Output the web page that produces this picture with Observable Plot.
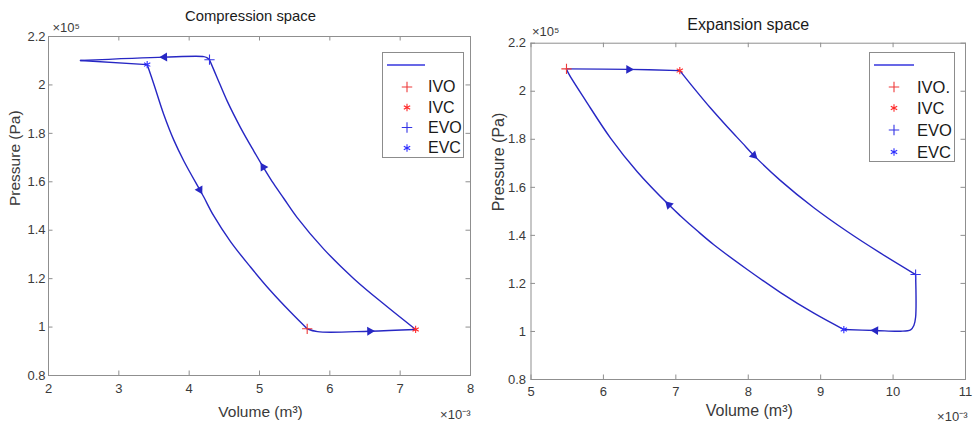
<!DOCTYPE html>
<html>
<head>
<meta charset="utf-8">
<script src="https://cdn.jsdelivr.net/npm/d3@7"></script>
<script src="https://cdn.jsdelivr.net/npm/@observablehq/plot@0.6"></script>
<style>
  body { margin: 0; background: #fff; }
  #wrap { position: relative; width: 978px; height: 425px; overflow: hidden; background: #fff;
          font-family: "Liberation Sans", Arial, sans-serif; }
  .panel { position: absolute; top: 0; }
  .legend { position: absolute; border: 1px solid #8c8c8c; background: #fff; box-sizing: border-box; }
  .legend svg { position: absolute; left: 0; top: 0; overflow: visible; }
  .legend .lab { position: absolute; color: #1a1a1a; white-space: nowrap; line-height: 1; }
</style>
</head>
<body>
<div id="wrap"></div>
<script>
// ---------------- DATA (volume in 1e-3 m^3, pressure in 1e5 Pa) ----------------
// Compression space cycle, in drawing order (EVC -> IVO -> IVC -> EVO -> tip -> EVC)
const compVolume = [3.403, 3.497, 3.639, 3.782, 3.924, 4.151, 4.208, 4.346, 4.588, 4.872, 5.157, 5.441, 5.678,
                    5.825, 6.568, 7.220,
                    6.768, 6.341, 5.914, 5.536, 5.346, 5.203, 5.053, 4.919, 4.730, 4.541, 4.399, 4.289,
                    4.250, 4.208, 3.649, 2.455, 3.403];
const compPressure = [2.084, 2.004, 1.878, 1.772, 1.686, 1.567, 1.537, 1.461, 1.353, 1.248, 1.150, 1.062, 0.993,
                      0.981, 0.983, 0.990,
                      1.095, 1.200, 1.322, 1.452, 1.531, 1.591, 1.661, 1.727, 1.824, 1.933, 2.029, 2.104,
                      2.113, 2.117, 2.115, 2.101, 2.084];
const compCorners = [0, 12, 15, 27, 31, 32];   // indices where the drawn line turns sharply
const compArrowVolume = [3.649, 4.151, 6.568, 5.053];
const compArrowPressure = [2.115, 1.567, 0.983, 1.661];
const compMarkerName = ["IVO", "IVC", "EVO", "EVC"];
const compMarkerVolume = [5.678, 7.220, 4.289, 3.403];
const compMarkerPressure = [0.993, 0.990, 2.104, 2.084];

// Expansion space cycle, in drawing order (IVO -> IVC -> EVO -> EVC -> IVO)
const expVolume = [5.490, 6.351, 7.055, 7.249, 7.479, 7.710, 7.917, 8.077, 8.446, 8.906, 9.367, 9.827, 10.311,
                   10.311, 10.287, 10.242, 10.103, 9.758, 9.320,
                   8.906, 8.446, 7.986, 7.525, 7.296, 7.065, 6.903, 6.467, 6.098, 5.753, 5.522, 5.490];
const expPressure = [2.093, 2.091, 2.086, 2.013, 1.930, 1.852, 1.785, 1.733, 1.628, 1.515, 1.416, 1.326, 1.237,
                     1.059, 1.025, 1.007, 1.001, 1.004, 1.008,
                     1.076, 1.162, 1.258, 1.361, 1.419, 1.481, 1.527, 1.665, 1.805, 1.962, 2.072, 2.093];
const expCorners = [0, 2, 12, 18, 30];
const expArrowVolume = [6.351, 8.077, 9.758, 6.903];
const expArrowPressure = [2.091, 1.733, 1.004, 1.527];
const expMarkerName = ["IVO", "IVC", "EVO", "EVC"];
const expMarkerVolume = [5.490, 7.055, 10.311, 9.320];
const expMarkerPressure = [2.093, 2.086, 1.237, 1.008];

// Axes
const compXTicks = [2, 3, 4, 5, 6, 7, 8];
const expXTicks = [5, 6, 7, 8, 9, 10, 11];
const yTicks = [0.8, 1, 1.2, 1.4, 1.6, 1.8, 2, 2.2];
const compLegendLabels = ["IVO", "IVC", "EVO", "EVC"];
const expLegendLabels = ["IVO.", "IVC", "EVO", "EVC"];

// ---------------- STYLE ----------------
const lineColor = "#2727c4";
const frameColor = "#8f8f8f";
const textColor = "#3a3a3a";
const markerStyle = {
  IVO: {symbol: "plus", color: "#ee3a3a"},
  IVC: {symbol: "asterisk", color: "#ff2a2a"},
  EVO: {symbol: "plus", color: "#3434e6"},
  EVC: {symbol: "asterisk", color: "#2f2fff"}
};

const wrap = document.getElementById("wrap");

function makePanel(cfg) {
  const W = cfg.width - cfg.ml - cfg.mr;
  const H = 425 - cfg.mt - cfg.mb;
  const path = cfg.V.map((v, i) => ({x: v, y: cfg.P[i]}));
  // split into smooth pieces between sharp corners
  const pieces = [];
  for (let k = 0; k < cfg.corners.length - 1; k++) {
    for (let j = cfg.corners[k]; j <= cfg.corners[k + 1]; j++) pieces.push({...path[j], seg: k});
  }
  const sx = v => (v - cfg.xDomain[0]) / (cfg.xDomain[1] - cfg.xDomain[0]) * W;
  const sy = p => (cfg.yDomain[1] - p) / (cfg.yDomain[1] - cfg.yDomain[0]) * H;
  const arrows = cfg.aV.map((v, i) => {
    const p = cfg.aP[i];
    let best = 0, bd = Infinity;
    path.forEach((q, j) => {
      const d = (sx(q.x) - sx(v)) ** 2 + (sy(q.y) - sy(p)) ** 2;
      if (d < bd) { bd = d; best = j; }
    });
    const a = path[Math.max(best - 1, 0)], b = path[Math.min(best + 1, path.length - 1)];
    const dx = sx(b.x) - sx(a.x), dy = sy(b.y) - sy(a.y);
    return {x: v, y: p, angle: Math.atan2(dx, -dy) * 180 / Math.PI};
  });
  const markers = cfg.mName.map((n, i) => ({name: n, x: cfg.mV[i], y: cfg.mP[i]}));
  const tick = 4.5;

  const plot = Plot.plot({
    width: cfg.width, height: 425,
    marginLeft: cfg.ml, marginRight: cfg.mr, marginTop: cfg.mt, marginBottom: cfg.mb,
    x: {domain: cfg.xDomain},
    y: {domain: cfg.yDomain},
    style: {fontFamily: '"Liberation Sans", Arial, sans-serif', background: "transparent", overflow: "visible"},
    marks: [
      Plot.frame({stroke: frameColor, strokeWidth: 1}),
      Plot.ruleX(cfg.xTicks, {x: d => d, stroke: frameColor, insetTop: H - tick}),
      Plot.ruleX(cfg.xTicks, {x: d => d, stroke: frameColor, insetBottom: H - tick}),
      Plot.ruleY(yTicks, {y: d => d, stroke: frameColor, insetRight: W - tick}),
      Plot.ruleY(yTicks, {y: d => d, stroke: frameColor, insetLeft: W - tick}),
      Plot.axisX(cfg.xTicks, {tickSize: 0, tickPadding: cfg.xPad, fontSize: 13, color: textColor, label: null, tickFormat: d => String(d)}),
      Plot.axisY(yTicks, {tickSize: 0, tickPadding: cfg.yPad, fontSize: 13, color: textColor, label: null, tickFormat: d => String(+d.toFixed(1))}),
      Plot.line(pieces, {x: "x", y: "y", z: "seg", stroke: lineColor, strokeWidth: 1.4, curve: "catmull-rom"}),
      Plot.dot(arrows, {x: "x", y: "y", rotate: "angle", symbol: "triangle", r: 3.3, fill: lineColor, stroke: "none"}),
      Plot.dot(markers, {x: "x", y: "y", symbol: d => markerStyle[d.name].symbol, stroke: d => markerStyle[d.name].color, r: 3.4, strokeWidth: 1.1, fill: "none"}),
      Plot.text([cfg.title], {text: d => d, frameAnchor: "top", lineAnchor: "middle", dx: cfg.titleDx, dy: cfg.titleDy, fontSize: cfg.titleSize, fill: "#1a1a1a"}),
      Plot.text(["Pressure (Pa)"], {text: d => d, frameAnchor: "left", lineAnchor: "middle", rotate: -90, dx: cfg.ylabDx, fontSize: cfg.labSize, fill: textColor}),
      Plot.text(["Volume (m³)"], {text: d => d, frameAnchor: "bottom", lineAnchor: "middle", dx: 1, dy: cfg.xlabDy, fontSize: cfg.labSize, fill: textColor}),
      Plot.text(["×10⁵"], {text: d => d, frameAnchor: "top-left", lineAnchor: "middle", textAnchor: "start", dx: cfg.yMulDx, dy: cfg.yMulDy, fontSize: 13, fill: textColor}),
      Plot.text(["×10⁻³"], {text: d => d, frameAnchor: "bottom-right", lineAnchor: "middle", textAnchor: "end", dx: cfg.xMulDx, dy: cfg.xMulDy, fontSize: 13, fill: textColor})
    ]
  });
  plot.classList.add("panel");
  plot.style.left = cfg.left + "px";
  wrap.appendChild(plot);

  // legend
  const lg = document.createElement("div");
  lg.className = "legend";
  Object.assign(lg.style, {left: cfg.lg.x + "px", top: cfg.lg.y + "px", width: cfg.lg.w + "px", height: cfg.lg.h + "px"});
  const svg = d3.select(lg).append("svg").attr("width", cfg.lg.w).attr("height", cfg.lg.h);
  svg.append("line").attr("x1", 4).attr("x2", cfg.lg.lineEnd).attr("y1", 12).attr("y2", 12)
    .attr("stroke", "#3636de").attr("stroke-width", 1.6);
  cfg.labels.forEach((lab, i) => {
    const st = markerStyle[cfg.mName[i]];
    const sym = st.symbol === "plus" ? d3.symbolPlus : d3.symbolAsterisk;
    svg.append("path").attr("d", d3.symbol(sym, Math.PI * 12)())
      .attr("transform", `translate(${cfg.lg.mx},${cfg.lg.rows[i]})`)
      .attr("fill", "none").attr("stroke", st.color).attr("stroke-width", 1.1);
    const t = document.createElement("div");
    t.className = "lab";
    t.textContent = lab;
    Object.assign(t.style, {left: cfg.lg.tx + "px", top: (cfg.lg.rows[i] - cfg.lg.fs * 0.5) + "px", fontSize: cfg.lg.fs + "px"});
    lg.appendChild(t);
  });
  wrap.appendChild(lg);
}

makePanel({
  left: 0, width: 489, ml: 48, mr: 19, mt: 36, mb: 50,
  xDomain: [2, 8], yDomain: [0.8, 2.2], xTicks: compXTicks,
  V: compVolume, P: compPressure, corners: compCorners, aV: compArrowVolume, aP: compArrowPressure,
  mName: compMarkerName, mV: compMarkerVolume, mP: compMarkerPressure,
  title: "Compression space", titleSize: 14.8, titleDx: -9, titleDy: -20,
  labSize: 15.5, ylabDx: -33, xlabDy: 37, xPad: 8, yPad: 3,
  yMulDx: 4, yMulDy: -9, xMulDx: 0, xMulDy: 39,
  labels: compLegendLabels,
  lg: {x: 382, y: 52, w: 82, h: 106, lineEnd: 42, mx: 24, tx: 45, fs: 16, rows: [34, 54.5, 74.5, 95]}
});

makePanel({
  left: 489, width: 489, ml: 41.5, mr: 13, mt: 42.7, mb: 46,
  xDomain: [5, 11], yDomain: [0.8, 2.2], xTicks: expXTicks,
  V: expVolume, P: expPressure, corners: expCorners, aV: expArrowVolume, aP: expArrowPressure,
  mName: expMarkerName, mV: expMarkerVolume, mP: expMarkerPressure,
  title: "Expansion space", titleSize: 16, titleDx: 0, titleDy: -18.7,
  labSize: 16, ylabDx: -32.5, xlabDy: 31.5, xPad: 7.5, yPad: 5,
  yMulDx: 1, yMulDy: -11.5, xMulDx: 2, xMulDy: 37,
  labels: expLegendLabels,
  lg: {x: 869, y: 52, w: 86, h: 110, lineEnd: 44, mx: 24, tx: 47, fs: 16.5, rows: [34, 55, 77, 99]}
});
</script>
</body>
</html>
